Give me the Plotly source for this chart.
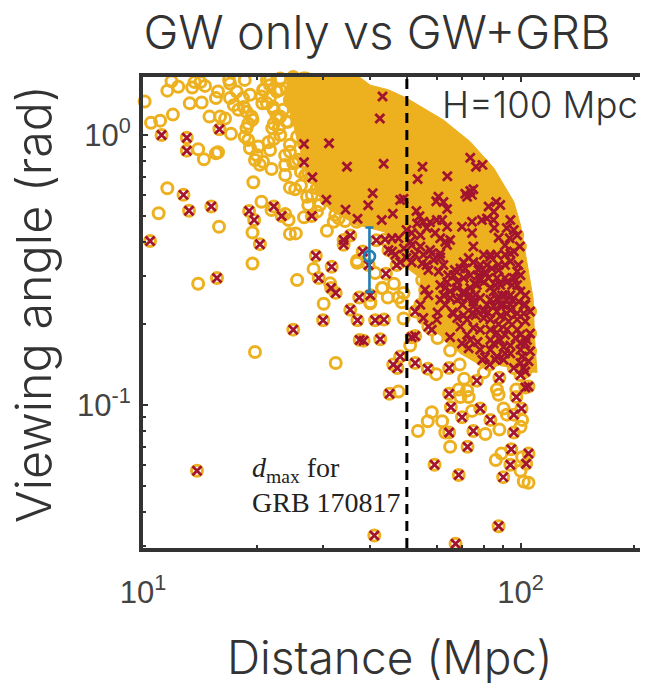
import math
import plotly.graph_objects as go

# events detected in GW and GRB (red crosses, each also has a gold ring)
both_distance = [11.2,13.06,13.06,15.94,12.8,13.24,15.17,10.44,19.1,19.7,22.2,23.3,20.4,15.7,26.7,31.1,26.7,34.7,28.1,43.1,42.4,43.4,40.6,30.6,39.5,34.4,28,37,42.9,45.9,35.4,34,34,41.5,28.7,31.6,29.2,31.5,32.4,37.4,40,35.4,44,39.6,38.2,
    49,48,55,53.4,64,73.6,76.2,79.3,71.4,73.6,75,72.2,74.4,60.6,59.8,62.5,63.9,53,54,82.3,86.2,88.4,85,81.5,79,84.9,85.2,94,92,96,87.5,93.6,98,99.6,74.4,70,74.4,75,63.9,60,57.6,55.3,62,56.4,53.2,54.3,51.5,59.4,61.3,65.1,63.2,63.9,49.9,51,47.5,45.7,43.8,49.1,54.3,44.7,46.6,45.7,49.9,51.5,47,48,58.2,61.3,58.9,54.9,56.4,57,60.7,62.5,55.3,70.7,72.9,75,71.4,69.3,79.9,83.2,86.6,91,94,96,78.2,81.5,84,87.5,91,77.4,73.6,70.7,66.5,67.9,63.9,61.3,63.2,65.1,67.9,70.7,73.6,76.6,79.9,82.3,98,100,96,92,98,88.4,86.6,84.9,89.3,94,100,103,99,102,88.4,94,86.6,92,98,102,72.2,75,78.2,81.5,69.3,65.1,62.5,79.9,76.6,55.9,57,54.3,52.6,
    55.3,58.2,60,57,52.6,51.5,48,46,47.2,52.6,56.8,64.7,45,64.7,65.4,78.2,70,83.2,75,64.7,72.4,59.2,68.6,87.5,41,67.3,90,94,103.5,94.5,105,96,96,100.6,97.5,105,103,76.6,87.9,100,102,105,79.2,65.1,69.3,70,72.9,77,72.2,66.5,70.7,75,79.9,84.9,90.2,103,88.4,83.2,79.9,86.6,92,98,104,100,84.9,90.2,83.2,86.6,94,90.2,100,103,100,103,74.4,72.2,37,41.2,43.5,37.5,38.4,42.5,30,25,13.9,
    67,64.3,77.4,80.5,75.4,73.6,68,61.3,63.2,70.2,83.2,86.6,91,95,91,85.8,83.2,95,103,106,98,93,87.5,83.2,78.2,75,88.4,94,100,106,97,91,85.8,82.8,96,101,106,91,83.2,78.2,80.5,73.6,66,68,60.3,76,82,94,88.4,76,78.2,87.5,94,98.7,83.2,91,57.6,61.3,52.6,51.5]
both_angle = [1.0,.977,.875,1.05,.6,.524,.543,.405,.523,.484,.543,.501,.394,.295,.926,.932,.792,.763,.697,1.39,1.15,.783,.608,.576,.549,.529,.501,.489,.484,.511,.424,.408,.392,.407,.357,.325,.295,.271,.26,.25,.255,.225,.306,.33,.37,
    .58,.574,.763,.687,.703,.823,.763,.775,.606,.62,.63,.59,.6,.59,.568,.565,.532,.523,.5,.543,.565,.55,.52,.49,.484,.484,.452,.484,.452,.445,.416,.414,.425,.386,.477,.457,.433,.386,.457,.484,.475,.477,.484,.452,.47,.425,.433,.433,.414,.408,.402,.391,.445,.402,.414,.414,.41,.38,.386,.375,.36,.37,.35,.338,.33,.338,.364,.364,.344,.334,.33,.316,.312,.33,.36,.338,.35,.338,.32,.32,.36,.354,.36,.36,.364,.37,.33,.33,.32,.33,.33,.302,.302,.295,.302,.285,.285,.278,.271,.263,.271,.263,.271,.278,.285,.295,.312,.302,.295,.285,.278,.278,.295,.263,.255,.255,.263,.255,.241,.235,.235,.235,.222,.218,.218,.218,.249,.241,.249,.235,.249,.249,.255,.222,.225,.267,.255,.235,.222,
    .21,.19,.207,.195,.18,.178,.151,.141,.137,.143,.136,.137,.11,.11,.098,.097,.09,.088,.08,.079,.07,.06,.055,.0355,.0328,.0306,.054,.06,.0605,.0685,.066,.079,.092,.097,.107,.117,.116,.123,.126,.129,.137,.145,.147,.178,.195,.169,.162,.171,.182,.218,.215,.232,.225,.232,.235,.204,.213,.207,.21,.185,.19,.19,.174,.169,.169,.164,.16,.151,.155,.147,.143,.169,.182,.133,.218,.207,.206,.206,.207,.174,.173,.175,.206,.19,.057,
    .316,.302,.316,.31,.282,.256,.245,.245,.235,.235,.245,.248,.255,.278,.295,.278,.272,.245,.235,.222,.207,.204,.199,.19,.19,.193,.174,.166,.16,.184,.177,.155,.147,.141,.137,.151,.158,.182,.174,.16,.15,.174,.22,.21,.22,.215,.22,.225,.235,.256,.29,.316,.34,.33,.36,.39,.375,.352,.36,.39]

# events detected in GW only (gold rings)
gw_distance = [10.1,10.5,11.1,12,11.6,11.9,12.4,13.3,14.3,13.5,13.7,14.2,14.6,15.6,15.8,15,16,16.5,17.1,16.9,17,18.6,17.4,17.9,18.5,17.7,19.2,14,14.5,15.6,15.8,11.6,11,15.9,19.6,20.6,19.5,19.5,14,25.6,30.1,24.5,25.4,26.7,23.8,24.3,21.9,18.6,18.8,19.5,19.2,20.2,21.5,22.2,19.8,20.8,21.9,23.8,25,23.8,24.5,25.3,27.2,27.4,28.9,30.7,32,33,36.9,28.3,31.3,41.2,40,43,
    19.8,32.4,49,51,59.8,69,65.1,47.5,58.2,56.8,53.5,62,63.2,65.1,80.7,87.9,74.4,90.2,86.6,87.5,97.5,70.9,72.2,68.6,69.3,72.9,101,100,92,86,89,100,102,105,101,80,58.5,63.9,60.3,
    49,48.5,47.5,44.5,36.9,43,46.2,40,54.9,63.9,
    20.9,21.7,20.6,21.3,22.6,24,23.1,25,21.3,22.2,23.1,22.2,22.9,24.5,24,24.5,25.6,27.2,25.3,26.2,27.4,29.4,31.3,28.9,30.1,32.7,18.8,18.4,17,19.4,19,21.7,20,20.4,19,
    27,29,31,33,26,28,30,32,25.5,27.5,
    21.7,23.1,24.8,26.6,20.8,21.7,23.1,24.5,20.7,22.1,23.5,22.6,24.2,22,23.1,24.5,23.8,25.8,26.9,26.2,28,29.4,32.3,34.3,36.8]
gw_angle = [1.33,1.11,1.13,1.19,1.46,1.58,1.51,1.31,1.32,1.5,1.57,1.57,1.52,1.37,1.45,1.17,1.17,1.15,1.01,1.6,1.55,1.6,1.29,1.24,1.27,1.45,1.41,.885,.813,.855,.863,.635,.513,.457,.668,.566,.435,.334,.281,.29,.237,.43,.432,.496,.51,.484,.527,.985,1.06,1.14,.893,.906,.94,.966,.808,.796,.748,.774,.785,.711,.638,.629,.59,.55,.52,.442,.477,.491,.342,.319,.282,.308,.238,.271,
    .157,.143,.209,.166,.13,.141,.159,.112,.094,.087,.08,.087,.079,.07,.078,.081,.095,.097,.114,.109,.114,.125,.113,.114,.107,.107,.088,.083,.092,.0625,.066,.057,.052,.0515,.064,.132,.231,.201,.177,
    .26,.24,.25,.25,.336,.271,.281,.24,.29,.231,
    1.47,1.53,1.39,1.6,1.45,1.49,1.62,1.64,1.31,1.24,1.17,1.1,1.06,1.33,1.12,.867,.985,.867,.796,.73,.72,.796,.711,.635,.617,.635,1.22,1.37,1.37,1.17,1.1,.88,.843,.775,.958,
    1.62,1.66,1.68,1.7,1.5,1.45,1.55,1.6,1.42,1.38,
    1.6,1.66,1.67,1.62,1.47,1.38,1.47,1.35,1.31,1.27,1.24,1.17,1.12,1.06,1.0,.92,.84,.81,.71,.65,.6,.55,.505,.48,.477]

# outline of the region where rings merge into a solid mass
solid_distance = [35.4,40,44.7,49.9,62.5,73.6,85,96,100,104,108,109,110.6,100,88.4,76.6,69.3,61.3,53.4,54.3,49.9,45.2,43.8,37,31.3,28.6,27.7,25.6,24.9,23.8,24.2,32.7]
solid_angle = [1.74,1.53,1.47,1.37,1.136,.944,.753,.566,.464,.339,.248,.174,.132,.133,.141,.143,.155,.181,.207,.295,.322,.369,.437,.464,.527,.625,.742,.958,1.136,1.35,1.64,1.71]

grb_point_distance = [39.8]
grb_point_angle = [.355]
grb_err_up = [.099]
grb_err_down = [.093]
dmax_distance = 50

x_range = [10, 215]
y_range = [0.0295, 1.64]
x_ticks = [10, 100]
x_tick_labels = ["10<sup>1</sup>", "10<sup>2</sup>"]
x_minor_ticks = [20, 30, 40, 50, 60, 70, 80, 90, 200]
y_ticks = [0.1, 1]
y_tick_labels = ["10<sup>-1</sup>", "10<sup>0</sup>"]
y_minor_ticks = [0.03, 0.04, 0.05, 0.06, 0.07, 0.08, 0.09, 0.2, 0.3, 0.4, 0.5, 0.6, 0.7, 0.8, 0.9]

GOLD = "#EDB120"
RED = "#A2142F"
BLUE = "#1F7FB8"
INK = "#333333"
FONT = "Inter"

fig = go.Figure()
fig.add_trace(go.Scatter(x=solid_distance, y=solid_angle, mode="lines", fill="toself",
                         fillcolor=GOLD, line=dict(color=GOLD, width=1), hoverinfo="skip", cliponaxis=False))
fig.add_trace(go.Scatter(x=gw_distance + both_distance, y=gw_angle + both_angle, mode="markers", cliponaxis=False,
                         marker=dict(symbol="circle-open", size=11, color=GOLD, line=dict(color=GOLD, width=3))))
fig.add_trace(go.Scatter(x=both_distance, y=both_angle, mode="markers", cliponaxis=False,
                         marker=dict(symbol="x-thin-open", size=9, color=RED, line=dict(color=RED, width=2.8))))
fig.add_trace(go.Scatter(x=grb_point_distance, y=grb_point_angle, mode="markers", cliponaxis=False,
                         error_y=dict(type="data", symmetric=False, array=grb_err_up, arrayminus=grb_err_down,
                                      color=BLUE, thickness=2.6, width=4),
                         marker=dict(symbol="circle-open", size=11, color=BLUE, line=dict(color=BLUE, width=2.6))))

fig.add_shape(type="line", xref="x", yref="paper", x0=dmax_distance, x1=dmax_distance, y0=0, y1=1,
              line=dict(color="black", width=3, dash="10px,7px"), layer="above")

fig.add_annotation(xref="paper", yref="paper", x=0.2127, y=0.166, xanchor="left", yanchor="middle",
                   text="<i>d</i><sub>max</sub> for", showarrow=False,
                   font=dict(family="Liberation Serif", size=28, color="#222222"))
fig.add_annotation(xref="paper", yref="paper", x=0.2127, y=0.096, xanchor="left", yanchor="middle",
                   text="GRB 170817", showarrow=False,
                   font=dict(family="Liberation Serif", size=28, color="#222222"))
fig.add_annotation(xref="paper", yref="paper", x=0.988, y=0.941, xanchor="right", yanchor="middle",
                   text="H=100 Mpc", showarrow=False, font=dict(family=FONT, size=36.5, color=INK, weight=300))
fig.add_annotation(xref="paper", yref="paper", x=0.491, y=-0.231, xanchor="center", yanchor="middle",
                   text="Distance (Mpc)", showarrow=False, font=dict(family=FONT, size=46, color=INK, weight=300))
fig.add_annotation(xref="paper", yref="paper", x=-0.2187, y=0.518, xanchor="center", yanchor="middle", textangle=-90,
                   text="Viewing angle (rad)", showarrow=False, font=dict(family=FONT, size=48.5, color=INK, weight=300))

fig.update_layout(
    width=640, height=675, showlegend=False, plot_bgcolor="white", paper_bgcolor="white",
    margin=dict(l=135, r=2, t=69, b=135),
    font=dict(family=FONT, color=INK),
    title=dict(text="GW only vs GW+GRB", x=0.5766, y=0.963, xanchor="center", yanchor="middle",
               font=dict(family=FONT, size=47, color=INK, weight=300)),
    xaxis=dict(type="log", range=[math.log10(v) for v in x_range], tickvals=x_ticks, ticktext=x_tick_labels,
               ticks="inside", ticklen=5, tickwidth=2, tickcolor=INK, showgrid=False, zeroline=False,
               showline=True, linecolor=INK, linewidth=4, mirror="allticks", ticklabelstandoff=14,
               tickfont=dict(family="Liberation Sans", size=31, color="#444444"),
               minor=dict(tickvals=x_minor_ticks, ticks="inside", ticklen=3, tickcolor=INK, showgrid=False)),
    yaxis=dict(type="log", range=[math.log10(v) for v in y_range], tickvals=y_ticks, ticktext=y_tick_labels,
               ticks="inside", ticklen=5, tickwidth=2, tickcolor=INK, showgrid=False, zeroline=False,
               showline=True, linecolor=INK, linewidth=4, ticklabelstandoff=2,
               tickfont=dict(family="Liberation Sans", size=31, color="#444444"),
               minor=dict(tickvals=y_minor_ticks, ticks="inside", ticklen=3, tickcolor=INK, showgrid=False)),
)
fig.write_html("out.html")
